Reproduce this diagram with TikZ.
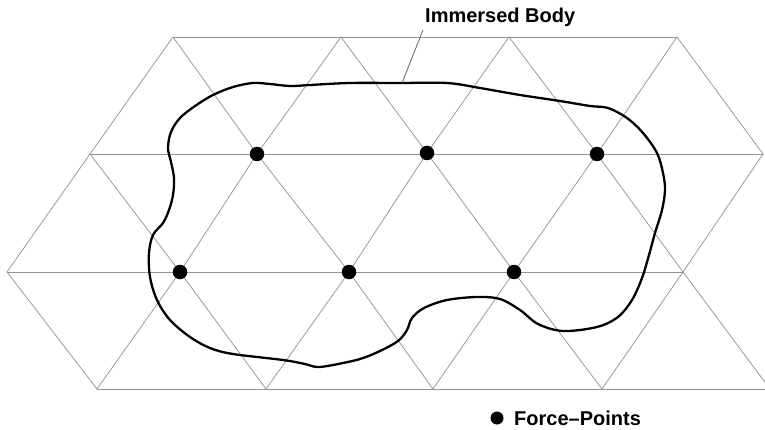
\documentclass[tikz,border=0pt]{standalone}
\usepackage{fontspec}
\setmainfont{Liberation Sans}
\begin{document}
\begin{tikzpicture}[x=1pt,y=-1pt,
  gridline/.style={draw=black!42,line width=0.75pt},
  bodyline/.style={draw=black,line width=2.3pt,line join=round},
  fpoint/.style={circle,fill=black,inner sep=0pt,minimum size=14.5pt},
  lbl/.style={font=\fontsize{20}{24}\selectfont\bfseries,inner sep=0pt}]
\useasboundingbox (0,0) rectangle (765,430);
\clip (0,0) rectangle (765,430);
% lattice points
\coordinate (T0) at (173,37);  \coordinate (T1) at (341,37);
\coordinate (T2) at (509,37);  \coordinate (T3) at (677,37);
\coordinate (M0) at (90,154);  \coordinate (M1) at (257,154);
\coordinate (M2) at (427,153); \coordinate (M3) at (597,154);
\coordinate (M4) at (763,154);
\coordinate (R0) at (7,272);   \coordinate (R1) at (180,272);
\coordinate (R2) at (349,272); \coordinate (R3) at (514,272);
\coordinate (R4) at (683,272);
\coordinate (B0) at (97,389);  \coordinate (B1) at (266,389);
\coordinate (B2) at (433,389); \coordinate (B3) at (602,389);
\coordinate (B4) at (770,389);
% horizontal lines
\draw[gridline] (T0) -- (T3);
\draw[gridline] (M0) -- (M4);
\draw[gridline] (R0) -- (R4);
\draw[gridline] (B0) -- (B4);
% zigzags
\draw[gridline] (M0) -- (T0) -- (M1) -- (T1) -- (M2) -- (T2) -- (M3) -- (T3) -- (M4);
\draw[gridline] (R0) -- (M0) -- (R1) -- (M1) -- (R2) -- (M2) -- (R3) -- (M3) -- (R4) -- (M4);
\draw[gridline] (R0) -- (B0) -- (R1) -- (B1) -- (R2) -- (B2) -- (R3) -- (B3) -- (R4) -- (B4);
% immersed body
\draw[bodyline] plot[smooth cycle,tension=0.55] coordinates {
 (253,83) (270,84) (290,86) (310,85) (350,83) (400,83) (447,83) (480,88)
 (520,95) (560,101) (590,106) (608,108) (627,118) (643,133) (657,153)
 (663,173) (665,190) (662,210) (655,233) (649,255) (642,278) (632,300)
 (618,317) (597,327) (563,331) (538,324) (520,310) (500,299) (477,297)
 (447,300) (424,308) (412,318) (407,330) (398,341) (380,351) (360,359)
 (333,365) (317,367) (305,364) (283,360) (233,354) (210,348) (190,337)
 (170,320) (157,300) (150,277) (149,253) (153,235) (163,223) (169,210)
 (173,195) (174,178) (171,162) (168,148) (171,132) (180,118) (195,106)
 (213,95) (233,87)};
% force points
\node[fpoint] (f1) at (M1) {};
\node[fpoint] (f2) at (M2) {};
\node[fpoint] (f3) at (M3) {};
\node[fpoint] (f4) at (R1) {};
\node[fpoint] (f5) at (R2) {};
\node[fpoint] (f6) at (R3) {};
% labels
\node[lbl,anchor=west] (body) at (425,17) {Immersed Body};
\coordinate (ls) at (423,30);
\coordinate (le) at (402,83);
\draw[draw=black!60,line width=0.8pt] (ls) -- (le);
\node[fpoint,minimum size=13pt] (legdot) at (497,418) {};
\node[lbl,anchor=west] (legtxt) at (514,418) {Force–Points};
\end{tikzpicture}
\end{document}
